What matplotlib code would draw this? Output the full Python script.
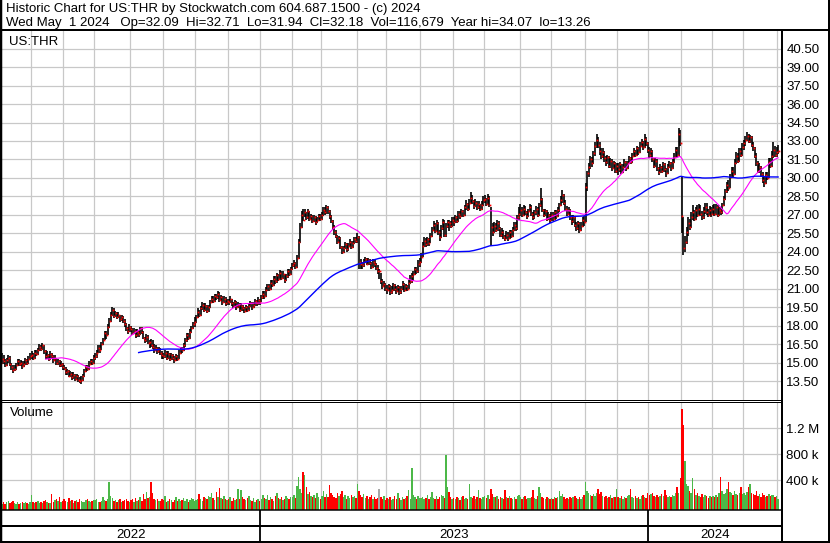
import numpy as np
import pandas as pd
import matplotlib
matplotlib.use('Agg')
import matplotlib.pyplot as plt
from matplotlib.lines import Line2D

# --- canvas (pixels) ---
W, H = 830, 543
BG = "#FFFFFF"
GRID = "#C8C8C8"
UP = "#4CB848"
DOWN = "#FF0000"
FLAT = "#A8A8A8"
MA_FAST = "#FF00FF"
MA_SLOW = "#0000FF"

# --- data, one line per month ---
close = [
    15.0, 15.3, 15.1, 14.8, 15.2, 15.4, 14.9, 14.6, 14.4, 14.5, 14.8, 15.1, 14.9, 15.0, 14.7, 14.9, 15.2, 15.0, 15.3, 15.5,
    15.6, 15.4, 15.8, 15.7, 16.0, 16.3, 16.1, 16.4, 15.9, 15.5, 15.6, 15.3, 15.7, 15.5, 15.2, 15.4, 15.0, 15.1, 14.8, 14.9, 14.6,
    14.5, 14.2, 14.3, 13.9, 14.1, 13.8, 14.0, 13.7, 13.9, 13.6, 13.5, 13.6, 13.9, 14.3, 14.6, 14.5, 14.9, 15.1, 15.0, 15.4,
    15.5, 15.8, 16.2, 16.0, 16.5, 16.8, 17.4, 17.2, 17.9, 18.4, 18.9, 19.3, 18.8, 19.0, 18.7, 18.9, 18.5, 18.7, 18.4, 18.1, 17.8, 17.6, 17.9,
    17.7, 17.4, 17.6, 17.2, 17.5, 17.3, 17.8, 17.5, 17.0, 16.8, 17.1, 16.6, 16.7, 16.4, 16.3, 16.0, 16.2, 15.9, 16.1, 15.8, 15.6,
    15.5, 15.8, 15.4, 15.7, 15.3, 15.6, 15.4, 15.2, 15.5, 15.3, 15.8, 16.1, 16.0, 16.4, 16.8, 17.2, 17.0, 17.5, 17.8, 18.1, 18.3,
    18.7, 19.1, 18.9, 19.4, 19.7, 19.3, 19.6, 19.2, 19.5, 19.9, 20.2, 20.0, 20.4, 20.3, 20.6, 20.1, 20.3, 19.9, 20.2, 19.8, 20.0,
    19.9, 20.2, 19.8, 19.6, 19.9, 19.5, 19.7, 19.3, 19.6, 19.4, 19.2, 19.5, 19.3, 19.6, 19.8, 19.5, 19.7, 20.0, 19.8, 20.1, 19.9,
    20.3, 20.6, 20.4, 20.9, 21.2, 21.0, 21.5, 21.3, 21.8, 21.6, 22.1, 21.8, 22.3, 21.9, 22.2, 21.7, 22.0, 22.4, 22.2, 22.6,
    22.9, 23.1, 22.8, 23.5, 24.8, 26.0, 27.0, 26.6, 27.2, 26.8, 27.3, 26.7, 26.9, 26.5, 26.8, 26.4, 26.6, 26.9, 26.7,
    27.0, 27.4, 27.2, 27.6, 27.3, 26.9, 26.5, 26.0, 25.6, 25.3, 24.8, 25.1, 24.4, 24.0, 24.3, 24.6, 24.2, 24.5, 24.8, 24.4, 24.7, 25.0, 24.9,
    25.2, 23.2, 23.0, 22.9, 23.2, 23.4, 23.0, 23.3, 23.1, 22.8, 23.2, 23.0, 22.7, 22.4, 22.4, 21.6, 21.2, 21.4, 21.0,
    20.9, 21.2, 20.7, 20.9, 21.3, 21.0, 20.8, 21.1, 20.7, 21.0, 21.4, 20.9, 21.2, 21.0, 21.5, 21.6, 22.0, 22.2, 22.6, 22.4, 23.0, 23.2,
    23.6, 24.5, 24.9, 24.6, 25.0, 24.7, 25.3, 25.8, 26.2, 25.7, 26.3, 25.6, 25.2, 25.9, 26.4, 25.4, 26.1, 26.4, 26.3, 26.1, 26.6,
    26.4, 26.8, 26.5, 27.1, 26.9, 27.3, 27.0, 27.6, 27.9, 27.5, 28.0, 28.4, 28.1, 27.7, 28.0, 27.6, 27.9, 27.5, 27.8, 28.2,
    28.3, 27.9, 28.4, 27.8, 26.0, 25.6, 26.1, 25.8, 26.3, 25.9, 25.4, 25.6, 25.2, 25.0, 25.4, 25.1, 25.6, 25.3, 25.8, 26.2, 25.9, 26.8, 27.1,
    27.4, 27.0, 27.5, 27.2, 26.9, 27.3, 27.6, 27.1, 26.8, 27.2, 27.5, 27.0, 27.8, 28.3, 27.4, 27.0, 27.3, 26.7, 27.0, 26.6,
    27.0, 26.7, 27.2, 26.9, 27.4, 27.8, 28.2, 28.6, 28.0, 27.5, 27.1, 27.4, 26.8, 26.5, 26.8, 26.2, 25.9, 26.3, 25.8, 26.1, 26.6, 26.4,
    29.3, 30.4, 30.9, 31.5, 31.2, 32.0, 32.6, 33.1, 32.7, 32.2, 31.8, 32.1, 31.6, 31.3, 31.7, 31.0, 31.4, 30.8, 31.2, 30.6, 31.0,
    30.7, 31.1, 30.5, 30.9, 31.3, 30.8, 31.2, 31.6, 31.3, 31.8, 32.2, 31.9, 32.4, 32.1, 32.6, 32.9, 32.5, 33.2, 32.8, 32.3,
    31.9, 32.2, 31.5, 31.0, 31.4, 30.8, 30.5, 30.9, 30.6, 31.1, 30.7, 30.4, 30.9, 31.2, 30.8, 31.3, 31.7, 32.3, 31.9, 33.6, 32.8,
    26.9, 24.3, 24.8, 25.6, 26.3, 26.0, 26.8, 27.2, 26.7, 27.4, 27.0, 27.5, 27.1, 26.8, 27.3, 27.6, 27.2, 27.0, 27.4, 27.1,
    27.5, 27.1, 27.6, 27.0, 27.4, 27.2, 27.8, 28.3, 28.9, 29.4, 29.2, 30.1, 30.6, 30.3, 31.2, 31.8, 31.4, 32.2, 31.9, 32.5,
    32.8, 33.1, 33.4, 33.0, 33.3, 32.7, 32.4, 31.8, 31.2, 30.6, 30.9, 30.3, 29.8, 29.6, 30.2, 30.0, 31.3, 31.0, 31.8, 32.3, 31.9, 32.1,
    32.18,
]
high = [
    15.4, 15.8, 15.6, 15.3, 15.4, 15.6, 15.5, 15.0, 14.8, 14.8, 15.0, 15.3, 15.3, 15.2, 15.1, 15.1, 15.4, 15.3, 15.5, 15.8,
    15.9, 15.8, 16.0, 16.0, 16.2, 16.5, 16.4, 16.6, 16.4, 16.0, 15.9, 15.7, 15.9, 15.8, 15.6, 15.6, 15.4, 15.3, 15.2, 15.1, 15.0,
    14.8, 14.6, 14.5, 14.4, 14.3, 14.2, 14.2, 14.1, 14.1, 14.0, 13.8, 13.9, 14.1, 14.5, 14.8, 14.8, 15.1, 15.3, 15.3, 15.6,
    15.8, 16.0, 16.4, 16.4, 16.7, 17.0, 17.6, 17.6, 18.1, 18.6, 19.1, 19.5, 19.4, 19.2, 19.1, 19.1, 18.9, 18.9, 18.8, 18.5, 18.2, 17.9, 18.1,
    18.0, 17.8, 17.8, 17.7, 17.7, 17.6, 17.9, 17.9, 17.6, 17.1, 17.3, 17.2, 16.8, 16.9, 16.8, 16.5, 16.4, 16.3, 16.3, 16.2, 15.9,
    15.8, 16.0, 15.9, 15.9, 15.8, 15.8, 15.7, 15.5, 15.7, 15.6, 16.0, 16.3, 16.3, 16.6, 17.0, 17.4, 17.4, 17.7, 18.0, 18.3, 18.7,
    18.9, 19.4, 19.3, 19.6, 19.9, 19.8, 19.8, 19.7, 19.7, 20.1, 20.4, 20.4, 20.6, 20.6, 20.8, 20.7, 20.5, 20.4, 20.4, 20.3, 20.2,
    20.2, 20.4, 20.2, 19.9, 20.1, 20.0, 19.9, 19.8, 19.8, 19.7, 19.5, 19.7, 19.6, 19.8, 20.0, 19.9, 19.9, 20.2, 20.1, 20.3, 20.2,
    20.5, 20.8, 20.8, 21.1, 21.4, 21.4, 21.7, 21.7, 22.0, 22.0, 22.3, 22.2, 22.5, 22.4, 22.4, 22.2, 22.2, 22.6, 22.6, 22.8,
    23.1, 23.3, 23.2, 23.7, 25.0, 26.3, 27.3, 27.5, 27.5, 27.2, 27.5, 27.3, 27.1, 27.0, 27.0, 26.9, 26.8, 27.1, 27.1,
    27.2, 27.6, 27.6, 27.8, 27.7, 27.4, 27.0, 26.6, 26.2, 25.8, 25.4, 25.3, 25.2, 24.5, 24.5, 24.8, 24.7, 24.7, 25.0, 24.9, 24.9, 25.2, 25.2,
    25.5, 25.3, 23.4, 23.2, 23.4, 23.6, 23.5, 23.5, 23.4, 23.2, 23.4, 23.3, 23.1, 22.9, 22.6, 22.3, 21.8, 21.6, 21.5,
    21.3, 21.4, 21.3, 21.2, 21.5, 21.4, 21.2, 21.3, 21.2, 21.2, 21.6, 21.5, 21.4, 21.3, 21.7, 22.1, 22.3, 22.4, 22.8, 22.8, 23.3, 23.5,
    23.9, 24.8, 25.2, 25.1, 25.2, 25.1, 25.5, 26.0, 26.5, 26.3, 26.6, 26.4, 25.8, 26.2, 26.7, 26.6, 26.3, 26.6, 26.6, 26.5, 26.8,
    26.8, 27.0, 26.9, 27.3, 27.3, 27.5, 27.4, 27.8, 28.2, 28.0, 28.3, 28.85, 28.6, 28.2, 28.3, 28.1, 28.1, 27.9, 28.1, 28.5,
    28.6, 28.4, 28.7, 28.5, 27.6, 26.3, 26.4, 26.3, 26.6, 26.5, 26.0, 25.9, 25.8, 25.4, 25.7, 25.6, 25.8, 25.8, 26.0, 26.4, 26.4, 27.0, 27.6,
    27.9, 27.6, 27.8, 27.7, 27.3, 27.5, 27.9, 27.8, 27.2, 27.4, 27.7, 27.6, 28.0, 29.2, 28.4, 27.5, 27.5, 27.4, 27.2, 27.1,
    27.2, 27.2, 27.4, 27.4, 27.6, 28.0, 28.5, 29.0, 28.7, 28.2, 27.7, 27.6, 27.5, 27.0, 27.0, 26.9, 26.4, 26.5, 26.4, 26.4, 26.8, 26.9,
    29.6, 30.6, 31.2, 31.8, 31.7, 32.2, 32.9, 33.55, 33.3, 32.9, 32.4, 32.4, 32.2, 31.8, 31.9, 31.8, 31.6, 31.5, 31.4, 31.3, 31.2,
    31.2, 31.3, 31.1, 31.1, 31.5, 31.4, 31.4, 31.8, 31.7, 32.0, 32.4, 32.3, 32.6, 32.5, 32.9, 33.2, 33.0, 33.6, 33.3, 32.9,
    32.5, 32.4, 32.3, 31.6, 31.6, 31.5, 30.9, 31.1, 31.0, 31.3, 31.2, 30.8, 31.1, 31.4, 31.3, 31.5, 32.0, 32.5, 32.5, 34.07, 33.9,
    30.1, 26.8, 25.3, 26.0, 26.8, 26.7, 27.2, 27.8, 27.4, 27.6, 27.8, 27.9, 27.8, 27.3, 27.6, 28.0, 28.0, 27.5, 27.7, 27.6,
    27.8, 27.9, 27.9, 27.8, 27.6, 27.6, 28.0, 28.5, 29.1, 29.7, 29.8, 30.3, 30.9, 30.9, 31.5, 32.1, 32.0, 32.4, 32.4, 32.8,
    33.1, 33.4, 33.7, 33.6, 33.5, 33.4, 32.9, 32.5, 32.0, 31.4, 31.2, 31.0, 30.5, 30.1, 30.5, 30.5, 31.6, 31.6, 32.2, 32.9, 32.6, 32.5,
    32.71,
]
low = [
    14.7, 14.9, 14.9, 14.6, 14.7, 15.0, 14.7, 14.4, 14.15, 14.3, 14.4, 14.7, 14.7, 14.7, 14.5, 14.6, 14.8, 14.8, 14.9, 15.2,
    15.3, 15.2, 15.3, 15.5, 15.6, 15.9, 15.9, 16.0, 15.7, 15.3, 15.3, 15.1, 15.2, 15.3, 15.0, 15.1, 14.8, 14.8, 14.6, 14.6, 14.4,
    14.4, 14.0, 14.0, 13.8, 13.8, 13.6, 13.7, 13.5, 13.6, 13.4, 13.35, 13.26, 13.5, 13.8, 14.2, 14.3, 14.4, 14.8, 14.8, 14.9,
    15.2, 15.4, 15.8, 15.8, 16.0, 16.4, 16.8, 16.9, 17.2, 17.8, 18.3, 18.8, 18.6, 18.7, 18.5, 18.6, 18.3, 18.4, 18.2, 17.9, 17.6, 17.3, 17.5,
    17.5, 17.2, 17.3, 17.0, 17.1, 17.1, 17.2, 17.3, 16.9, 16.6, 16.7, 16.5, 16.2, 16.3, 16.1, 15.8, 15.9, 15.7, 15.8, 15.6, 15.3,
    15.3, 15.4, 15.2, 15.3, 15.1, 15.2, 15.2, 15.0, 15.1, 15.1, 15.3, 15.7, 15.8, 15.9, 16.3, 16.7, 16.8, 16.9, 17.4, 17.7, 17.9,
    18.2, 18.6, 18.7, 18.8, 19.3, 19.1, 19.2, 19.0, 19.1, 19.4, 19.8, 19.8, 19.9, 20.1, 20.2, 19.9, 20.0, 19.7, 19.8, 19.6, 19.7,
    19.7, 19.8, 19.6, 19.4, 19.5, 19.3, 19.4, 19.1, 19.2, 19.2, 19.0, 19.1, 19.1, 19.2, 19.5, 19.3, 19.4, 19.6, 19.6, 19.7, 19.7,
    19.9, 20.2, 20.2, 20.3, 20.8, 20.8, 20.9, 21.1, 21.2, 21.4, 21.5, 21.6, 21.7, 21.7, 21.8, 21.5, 21.6, 21.9, 22.0, 22.1,
    22.5, 22.8, 22.6, 22.7, 23.4, 24.7, 25.9, 26.5, 26.8, 26.6, 26.7, 26.5, 26.6, 26.3, 26.4, 26.2, 26.3, 26.5, 26.5,
    26.6, 26.9, 27.0, 27.1, 27.1, 26.7, 26.3, 25.8, 25.4, 25.1, 24.6, 24.7, 24.2, 23.8, 23.9, 24.2, 24.0, 24.1, 24.4, 24.2, 24.3, 24.6, 24.7,
    24.7, 22.6, 22.6, 22.6, 22.8, 23.1, 22.9, 22.9, 22.9, 22.6, 22.7, 22.8, 22.5, 22.2, 21.8, 21.4, 21.0, 21.1, 20.8,
    20.6, 20.8, 20.5, 20.6, 20.8, 20.8, 20.6, 20.7, 20.5, 20.6, 20.9, 20.7, 20.8, 20.8, 21.0, 21.4, 21.5, 21.6, 22.1, 22.2, 22.3, 22.8,
    23.1, 23.6, 24.4, 24.4, 24.5, 24.5, 24.7, 25.2, 25.7, 25.5, 25.6, 25.4, 24.9, 25.1, 25.8, 25.2, 25.2, 25.9, 25.7, 25.9, 26.0,
    26.1, 26.3, 26.3, 26.4, 26.7, 26.8, 26.8, 26.9, 27.4, 27.3, 27.4, 27.9, 27.9, 27.5, 27.6, 27.4, 27.5, 27.3, 27.4, 27.7,
    28.0, 27.7, 27.8, 27.6, 24.5, 25.3, 25.5, 25.6, 25.7, 25.7, 25.2, 25.2, 25.0, 24.9, 25.0, 24.9, 25.0, 25.1, 25.2, 25.7, 25.7, 25.8, 26.6,
    26.9, 26.8, 26.9, 27.0, 26.7, 26.8, 27.2, 26.9, 26.6, 26.7, 27.0, 26.8, 26.9, 27.6, 27.2, 26.8, 26.9, 26.5, 26.6, 26.3,
    26.5, 26.5, 26.6, 26.7, 26.8, 27.2, 27.7, 28.0, 27.8, 27.3, 26.9, 27.0, 26.6, 26.2, 26.3, 26.0, 25.7, 25.8, 25.5, 25.7, 26.0, 26.1,
    26.4, 28.9, 30.1, 30.7, 30.9, 31.1, 31.8, 32.4, 32.4, 31.9, 31.5, 31.6, 31.3, 31.0, 31.1, 30.8, 30.8, 30.6, 30.7, 30.4, 30.4,
    30.2, 30.5, 30.3, 30.4, 30.8, 30.6, 30.7, 31.1, 31.1, 31.2, 31.7, 31.7, 31.8, 31.9, 32.0, 32.5, 32.3, 32.4, 32.6, 32.0,
    31.6, 31.7, 31.3, 30.8, 30.9, 30.6, 30.2, 30.4, 30.4, 30.5, 30.5, 30.1, 30.3, 30.8, 30.6, 30.7, 31.2, 31.6, 31.7, 31.8, 32.6,
    25.5, 23.75, 24.0, 24.6, 25.3, 25.8, 25.9, 26.6, 26.5, 26.6, 26.8, 27.0, 26.9, 26.6, 26.7, 27.1, 27.0, 26.8, 26.9, 26.8,
    27.0, 26.9, 27.0, 26.8, 26.9, 27.0, 27.1, 27.7, 28.2, 28.8, 28.9, 29.2, 30.0, 30.1, 30.2, 31.1, 31.2, 31.3, 31.7, 31.8,
    32.3, 32.6, 33.0, 32.8, 32.8, 32.5, 32.2, 31.6, 31.0, 30.4, 30.4, 30.1, 29.6, 29.25, 29.5, 29.8, 30.0, 30.8, 30.9, 31.6, 31.7, 31.7,
    31.94,
]
# volume in thousands of shares
volume = [
    55, 40, 70, 35, 60, 75, 45, 65, 80, 50, 40, 60, 35, 55, 70, 45, 60, 50, 40, 65,
    174, 60, 45, 70, 85, 55, 65, 50, 75, 90, 60, 45, 55, 190, 70, 95, 120, 80, 140, 60, 75,
    110, 85, 60, 130, 75, 95, 55, 80, 100, 65, 120, 85, 70, 60, 90, 110, 75, 65, 85, 100,
    90, 120, 70, 60, 85, 140, 95, 75, 110, 375, 160, 130, 85, 100, 70, 90, 110, 65, 80, 95, 120, 75, 60,
    90, 110, 70, 125, 85, 100, 140, 75, 190, 120, 215, 130, 150, 375, 200, 120, 90, 105, 75, 85, 110,
    95, 160, 70, 85, 120, 90, 65, 100, 140, 80, 110, 75, 95, 125, 85, 105, 70, 90, 130, 115, 80,
    95, 120, 190, 105, 85, 150, 130, 110, 165, 140, 200, 125, 95, 215, 150, 275, 130, 105, 160, 120, 90,
    110, 140, 85, 130, 95, 120, 265, 105, 250, 140, 115, 90, 125, 160, 100, 85, 130, 70, 95, 120, 80,
    105, 170, 130, 110, 175, 95, 140, 120, 85, 160, 200, 130, 110, 145, 95, 120, 165, 135, 105, 150,
    140, 170, 125, 315, 450, 260, 210, 530, 485, 290, 185, 220, 160, 140, 175, 130, 200, 145, 120,
    165, 230, 150, 190, 140, 330, 210, 175, 150, 125, 210, 160, 185, 230, 140, 170, 120, 155, 135, 180, 145, 160, 125,
    345, 240, 170, 150, 190, 130, 160, 115, 140, 175, 120, 150, 110, 130, 265, 145, 120, 155, 100,
    130, 110, 145, 95, 120, 160, 105, 210, 125, 100, 140, 115, 135, 155, 250, 120, 585, 180, 140, 115, 160, 130,
    125, 150, 110, 135, 170, 120, 145, 215, 130, 105, 160, 120, 140, 180, 155, 125, 790, 295, 215, 140, 120,
    130, 110, 150, 125, 100, 140, 165, 120, 135, 115, 340, 150, 125, 160, 110, 140, 250, 130, 105, 145,
    160, 135, 180, 120, 270, 190, 150, 140, 165, 120, 145, 130, 110, 250, 140, 125, 155, 130, 115, 145, 120, 160, 175,
    150, 120, 140, 165, 110, 130, 125, 145, 250, 135, 115, 160, 290, 210, 140, 125, 110, 150, 130, 120,
    135, 110, 150, 125, 140, 230, 165, 190, 145, 120, 135, 110, 150, 125, 140, 160, 130, 115, 150, 120, 145, 170,
    375, 240, 200, 170, 155, 185, 160, 210, 260, 190, 220, 165, 140, 155, 130, 150, 170, 125, 145, 140, 260,
    150, 135, 165, 120, 145, 130, 155, 170, 260, 140, 125, 160, 135, 150, 120, 165, 180, 145, 130, 200,
    170, 185, 210, 160, 150, 175, 140, 165, 190, 155, 250, 180, 150, 165, 140, 175, 160, 200, 290, 210, 440,
    1497, 1250, 697, 340, 310, 230, 200, 430, 260, 180, 210, 165, 150, 190, 140, 170, 155, 130, 160, 145,
    165, 140, 180, 150, 200, 450, 230, 190, 210, 260, 375, 220, 200, 180, 240, 190, 170, 210, 300, 185,
    200, 180, 220, 300, 340, 210, 190, 170, 230, 160, 185, 150, 200, 175, 140, 165, 190, 155, 170, 180, 150, 165,
    116.679,
]
HOLIDAYS = ["2022-05-30", "2022-06-20", "2022-07-04", "2022-09-05", "2022-11-24", "2022-12-26",
            "2023-01-02", "2023-01-16", "2023-02-20", "2023-04-07", "2023-05-29", "2023-06-19",
            "2023-07-04", "2023-09-04", "2023-11-23", "2023-12-25",
            "2024-01-01", "2024-01-15", "2024-02-19", "2024-03-29"]
price_ticks = [13.5, 15.0, 16.5, 18.0, 19.5, 21.0, 22.5, 24.0, 25.5, 27.0, 28.5,
               30.0, 31.5, 33.0, 34.5, 36.0, 37.5, 39.0, 40.5]
vol_ticks = [400, 800, 1200]
vol_tick_labels = ["400 k", "800 k", "1.2 M"]

HEADER1 = "Historic Chart for US:THR by Stockwatch.com 604.687.1500 - (c) 2024"
HEADER2 = ("Wed May  1 2024   Op=32.09  Hi=32.71  Lo=31.94  Cl=32.18  "
           "Vol=116,679  Year hi=34.07  lo=13.26")

n = min(len(close), len(high), len(low), len(volume))
c = np.array(close[:n])
hi = np.array(high[:n])
lo = np.array(low[:n])
vol = np.array(volume[:n], dtype=float)
dates = pd.bdate_range(end="2024-05-01", periods=n, freq="C", holidays=HOLIDAYS)
idx = np.arange(n)

ma_fast = pd.Series(c).rolling(30).mean().values
ma_slow = pd.Series(c).rolling(90).mean().values

chg = np.round(np.diff(c, prepend=c[0]), 4)
vcol = np.where(chg > 0, UP, np.where(chg < 0, DOWN, FLAT))
vcol[0] = UP

month_pos = [i - 0.5 for i in range(1, n) if dates[i].month != dates[i - 1].month]
year_pos = [i - 0.5 for i in range(1, n) if dates[i].year != dates[i - 1].year]

plt.rcParams['font.family'] = ['Liberation Sans', 'DejaVu Sans']
FS = 9.5


def fx(x):
    return x / W


def fy(y):
    return 1 - y / H


fig = plt.figure(figsize=(W / 100, H / 100), dpi=100)
fig.patch.set_facecolor(BG)

# x mapping: 1.552 px per trading day, plot area from px 1 to 781
X0, X1 = 0.3, 0.3 + 780 / 1.552

# --- price panel ---
ax = fig.add_axes([fx(1), fy(399.5), 780 / W, (399.5 - 30.2) / H])
ax.set_xlim(X0, X1)
ax.set_ylim(12.0, 42.0)
ax.set_xticks(month_pos)
ax.set_yticks(price_ticks)
ax.set_yticklabels([f"{v:.2f}" for v in price_ticks])
ax.yaxis.tick_right()
ax.tick_params(axis='y', length=0, pad=3.8, labelsize=FS, labelcolor='black')
ax.tick_params(axis='x', length=0, labelbottom=False)
ax.grid(True, color=GRID, lw=0.9)
ax.set_axisbelow(True)
for s in ax.spines.values():
    s.set_visible(False)

ax.vlines(idx, lo, hi, color='black', lw=1.2, zorder=3)
ax.plot(idx + 0.35, c, ls='none', marker='s', ms=1.25, mew=0, color=DOWN, zorder=4)
ax.plot(idx, ma_fast, color=MA_FAST, lw=0.8, zorder=5)
ax.plot(idx, ma_slow, color=MA_SLOW, lw=1.0, zorder=5)
ax.text(8 / 780, 0.968, "US:THR", transform=ax.transAxes,
        fontsize=FS, va='center', ha='left')

# --- volume panel ---
VB = -(509.5 - 506.3) / 26 * 400
VT = VB + (509.5 - 402.3) / 26 * 400
av = fig.add_axes([fx(1), fy(509.5), 780 / W, (509.5 - 402.3) / H])
av.set_xlim(X0, X1)
av.set_ylim(VB, VT)
av.set_xticks(month_pos)
av.set_yticks(vol_ticks)
av.set_yticklabels(vol_tick_labels)
av.yaxis.tick_right()
av.tick_params(axis='y', length=0, pad=3.8, labelsize=FS)
av.tick_params(axis='x', length=0, labelbottom=False)
av.grid(True, color=GRID, lw=0.9)
av.set_axisbelow(True)
for s in av.spines.values():
    s.set_visible(False)
av.bar(idx, vol - VB, bottom=VB, width=0.95, color=vcol, linewidth=0, zorder=3)
av.text(0.011, 0.9, "Volume", transform=av.transAxes, fontsize=FS, va='center', ha='left')

# --- date strip ---
ad = fig.add_axes([fx(1), fy(541), 780 / W, (541 - 510) / H])
ad.set_xlim(X0, X1)
ad.set_ylim(0, 31)
ad.axis('off')
ad.vlines(year_pos, 0, 31, color='black', lw=1.3)
edges = [X0] + year_pos + [X1]
years = sorted(set(d.year for d in dates))
for k, yr in enumerate(years):
    ad.text((edges[k] + edges[k + 1]) / 2, 6, str(yr), fontsize=FS, ha='center', va='center')


# --- frame lines (pixel coords) ---
def hline(y, x0, x1, w):
    fig.add_artist(Line2D([fx(x0), fx(x1)], [fy(y), fy(y)], color='black', lw=w * 0.72,
                          transform=fig.transFigure, solid_capstyle='butt'))


def vline(x, y0, y1, w):
    fig.add_artist(Line2D([fx(x), fx(x)], [fy(y0), fy(y1)], color='black', lw=w * 0.72,
                          transform=fig.transFigure, solid_capstyle='butt'))


vline(1, 0, H, 2.5)
vline(829, 0, H, 2)
hline(542, 0, W, 2)
hline(30.3, 0, W, 2)
vline(781.5, 30, 542, 2)
hline(400.2, 0, 781, 1)
hline(402.4, 0, 781, 1)
hline(510, 0, 781, 1.5)
hline(525.8, 0, 781, 2)

fig.text(fx(6), fy(8.7), HEADER1, fontsize=FS, va='center', ha='left')
fig.text(fx(6), fy(23), HEADER2, fontsize=FS, va='center', ha='left')

fig.savefig("out.png", dpi=100, facecolor=BG)
